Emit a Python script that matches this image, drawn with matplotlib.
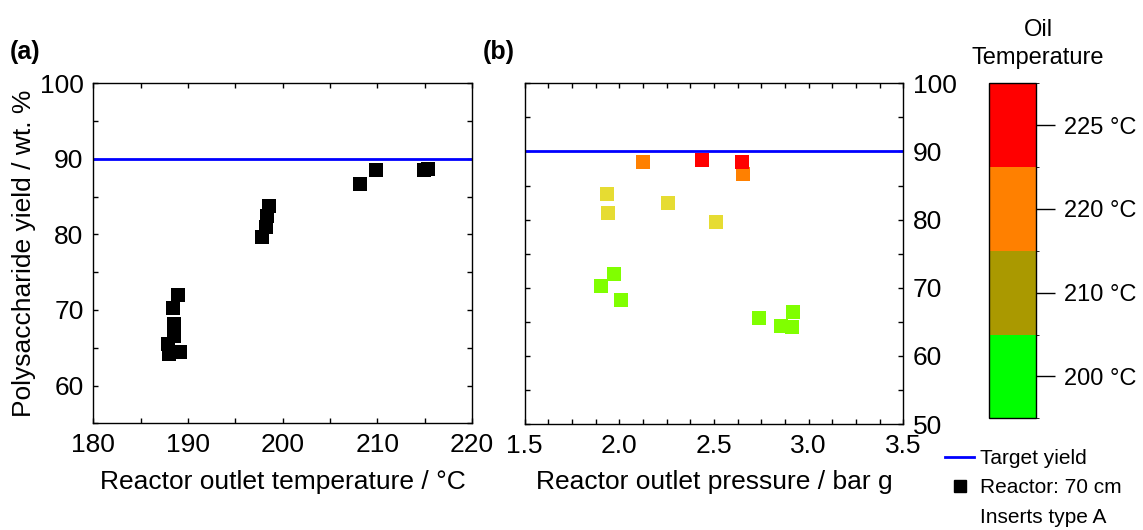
import matplotlib
matplotlib.use("Agg")
import matplotlib.pyplot as plt
import numpy as np
from matplotlib.colors import ListedColormap, BoundaryNorm
from matplotlib.cm import ScalarMappable
from matplotlib.lines import Line2D
from matplotlib.ticker import MultipleLocator

plt.rcParams['font.family'] = ['Liberation Sans', 'DejaVu Sans']

# yield / wt.% with reactor outlet temperature, outlet pressure and oil temperature
yield_pct = [72.0, 70.2, 68.2, 66.5, 65.5, 64.4, 64.2,
             83.8, 82.4, 81.0, 79.7,
             86.7, 88.5,
             88.5, 88.7]
outlet_temp = [188.98, 188.45, 188.56, 188.55, 187.92, 189.19, 187.95,
               198.6, 198.3, 198.2, 197.85,
               208.2, 209.9,
               214.9, 215.3]
outlet_press = [1.972, 1.903, 2.009, 2.919, 2.739, 2.854, 2.910,
                1.935, 2.255, 1.942, 2.509,
                2.655, 2.127,
                2.648, 2.435]
oil_temp = [200] * 7 + [210] * 4 + [220] * 2 + [225] * 2
target_yield = 90

oil_levels = [200, 210, 220, 225]
point_colors = {200: '#80FF00', 210: '#E6DC32', 220: '#FF8000', 225: '#FF0000'}
bar_colors = ['#00FF00', '#AA9900', '#FF8000', '#FF0000']

fig = plt.figure(figsize=(11.43, 5.30), dpi=100)
ax1 = fig.add_axes([0.0816, 0.2013, 0.3315, 0.6415])
ax2 = fig.add_axes([0.4590, 0.2000, 0.3313, 0.6428])
cax = fig.add_axes([0.8655, 0.2108, 0.0409, 0.6320])

FS = 19

# (a) yield vs outlet temperature
ax1.axhline(target_yield, color='#0000FF', lw=2)
ax1.scatter(outlet_temp, yield_pct, marker='s', s=92, c='black', lw=0, zorder=3)
ax1.set_xlim(180, 220)
ax1.set_ylim(55, 100)
ax1.xaxis.set_major_locator(MultipleLocator(10))
ax1.xaxis.set_minor_locator(MultipleLocator(5))
ax1.yaxis.set_major_locator(MultipleLocator(10))
ax1.yaxis.set_minor_locator(MultipleLocator(5))
ax1.set_xlabel('Reactor outlet temperature / °C', fontsize=FS, labelpad=9)
ax1.set_ylabel('Polysaccharide yield / wt. %', fontsize=FS, labelpad=3)

# (b) yield vs outlet pressure, coloured by oil temperature
ax2.axhline(target_yield, color='#0000FF', lw=2)
ax2.scatter(outlet_press, yield_pct, marker='s', s=100,
            c=[point_colors[t] for t in oil_temp], lw=0, zorder=3)
ax2.set_xlim(1.5, 3.5)
ax2.set_ylim(50, 100)
ax2.xaxis.set_major_locator(MultipleLocator(0.5))
ax2.xaxis.set_minor_locator(MultipleLocator(0.125))
ax2.yaxis.set_major_locator(MultipleLocator(10))
ax2.yaxis.set_minor_locator(MultipleLocator(5))
ax2.xaxis.set_major_formatter(matplotlib.ticker.FormatStrFormatter('%.1f'))
ax2.set_xlabel('Reactor outlet pressure / bar g', fontsize=FS, labelpad=9)

for ax in (ax1, ax2):
    ax.tick_params(which='both', direction='in', top=True, right=True,
                   length=3.5, width=1, labelsize=FS, pad=7)
    for sp in ax.spines.values():
        sp.set_linewidth(1)
ax2.tick_params(axis='y', labelleft=False, labelright=True)

# colour bar for oil temperature
cmap = ListedColormap(bar_colors)
norm = BoundaryNorm(np.arange(len(oil_levels) + 1), cmap.N)
cb = fig.colorbar(ScalarMappable(norm=norm, cmap=cmap), cax=cax,
                  ticks=np.arange(len(oil_levels)) + 0.5)
cb.set_ticklabels([f'{t} °C' for t in oil_levels])
cb.outline.set_linewidth(1)
cax.tick_params(direction='out', length=14, width=1, labelsize=17, pad=6)
fig.text(1038 / 1143, 1 - 44 / 530, 'Oil\nTemperature', ha='center', va='center',
         fontsize=17, linespacing=1.35)

fig.text(10 / 1143, 1 - 52 / 530, '(a)', fontsize=18, fontweight='bold', va='center')
fig.text(483 / 1143, 1 - 52 / 530, '(b)', fontsize=18, fontweight='bold', va='center')

handles = [Line2D([], [], color='#0000FF', lw=2),
           Line2D([], [], color='black', marker='s', ls='', ms=8),
           Line2D([], [], ls='', marker='')]
labels = ['Target yield', 'Reactor: 70 cm', 'Inserts type A']
fig.legend(handles, labels, loc='upper left', bbox_to_anchor=(945 / 1143, 1 - 449 / 530),
           frameon=False, fontsize=15, handlelength=1.4, handletextpad=0.3,
           labelspacing=0.5, borderpad=0, borderaxespad=0)

fig.savefig('out.png', dpi=100)
